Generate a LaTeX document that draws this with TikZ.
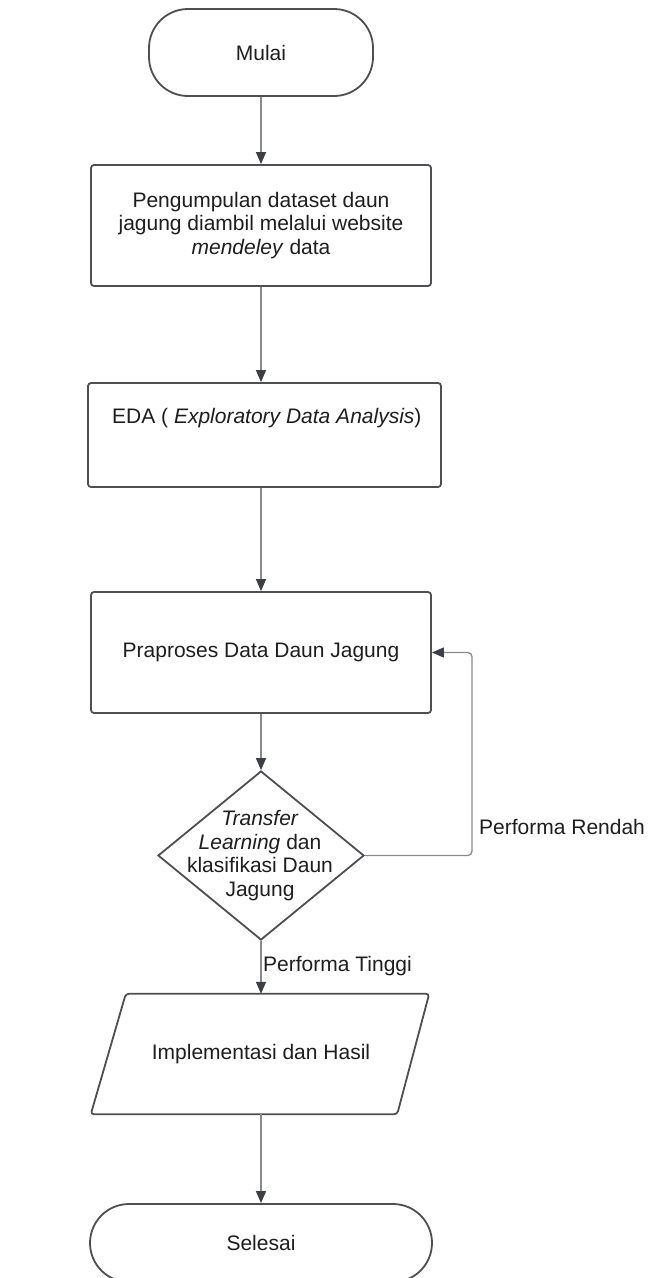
\documentclass[tikz,border=0pt]{standalone}
\usepackage{fontspec}
\setmainfont{Liberation Sans}
\usetikzlibrary{arrows.meta,shapes.geometric}
\definecolor{edgegray}{HTML}{4D4F52}
\definecolor{wiregray}{HTML}{8A8A8A}
\definecolor{tipgray}{HTML}{3C3F45}
\definecolor{inkgray}{HTML}{1E1E1E}
\begin{document}
\begin{tikzpicture}[x=1pt,y=-1pt,
  every node/.style={font=\fontsize{21}{23.5}\selectfont, text=inkgray, inner sep=0pt},
  shapebox/.style={draw=edgegray, line width=1.8pt, rounded corners=3pt, align=center},
  terminal/.style={shapebox, rounded corners=39pt},
  flow/.style={draw=wiregray, line width=1.3pt,
    -{Triangle[length=12pt,width=10pt,color=tipgray,fill=tipgray]}},
  loopflow/.style={flow, rounded corners=4pt},
]
\useasboundingbox[fill=white] (0,0) rectangle (648,1278);

% start / end terminals
\node[terminal, minimum width=224pt, minimum height=87pt] (start) at (261,52.5) {Mulai};

% process boxes
\node[shapebox, minimum width=340pt, minimum height=121pt] (collect) at (261,225.5)
  {Pengumpulan dataset daun\\jagung diambil melalui website\\\textit{mendeley} data};
\node[shapebox, minimum width=353pt, minimum height=104pt] (eda) at (264.5,435) {};
\node[anchor=west] (edatext) at (112,418) {EDA ( \textit{Exploratory Data Analysis})};
\node[shapebox, minimum width=340pt, minimum height=121pt] (prep) at (261,652.5)
  {Praproses Data Daun Jagung};

% decision
\node[diamond, draw=edgegray, line width=1.8pt, minimum width=206pt, minimum height=169pt] (decide) at (261,855.5) {};
\node[align=center] (decidetext) at (260,855.5)
  {\textit{Transfer}\\\textit{Learning} dan\\klasifikasi Daun\\Jagung};

% input/output parallelogram
\node[minimum width=304pt, minimum height=120pt] (impl) at (261,1054) {Implementasi dan Hasil};
\draw[shapebox] ([xshift=-18pt]impl.south west) -- ([xshift=17pt]impl.north west)
  -- ([xshift=16pt]impl.north east) -- ([xshift=-16pt]impl.south east) -- cycle;

\node[terminal, minimum width=342pt, minimum height=78pt] (finish) at (261,1243) {Selesai};

% connectors
\draw[flow] (start.south) -- (collect.north);
\draw[flow] (collect.south) -- (collect.south |- eda.north);
\draw[flow] (prep.north |- eda.south) -- (prep.north);
\draw[flow] (prep.south) -- (decide.north);
\draw[flow] (decide.south) -- (impl.north);
\draw[flow] (impl.south) -- (finish.north);
\draw[loopflow] (decide.east) -- ++(107,0) |- (prep.east);

% branch labels
\node[anchor=west] (low) at (479,827) {Performa Rendah};
\node[anchor=west] (high) at (263,966) {Performa Tinggi};
\end{tikzpicture}
\end{document}
